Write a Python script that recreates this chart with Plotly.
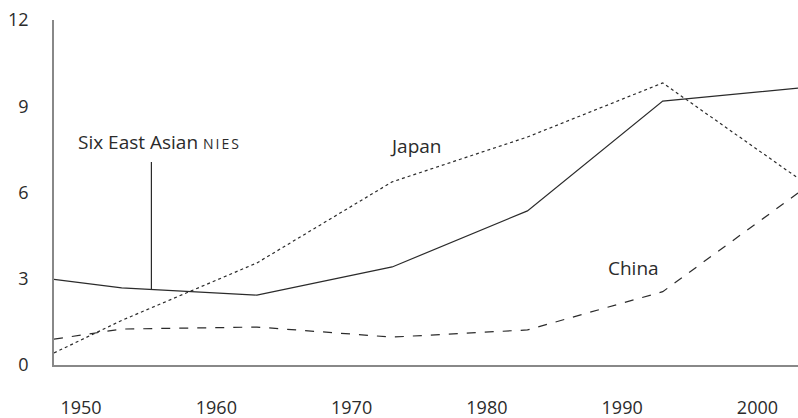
import plotly.graph_objects as go

# 数据
years = [1948, 1953, 1963, 1973, 1983, 1993, 2003]
nies = [2.98, 2.68, 2.43, 3.41, 5.36, 9.18, 9.63]
japan = [0.42, 1.55, 3.55, 6.37, 7.93, 9.81, 6.5]
china = [0.90, 1.25, 1.32, 0.97, 1.22, 2.55, 5.98]

x_ticks = [1950, 1960, 1970, 1980, 1990, 2000]
y_ticks = [0, 3, 6, 9, 12]

FONT = "Open Sans"
INK = "#2b2b2b"

fig = go.Figure()
fig.add_trace(go.Scatter(x=years, y=nies, mode="lines",
                         line=dict(color=INK, width=1.2, dash="solid")))
fig.add_trace(go.Scatter(x=years, y=japan, mode="lines",
                         line=dict(color=INK, width=1.2, dash="dot")))
fig.add_trace(go.Scatter(x=years, y=china, mode="lines",
                         line=dict(color=INK, width=1.2, dash="dash")))

# 标注
fig.add_annotation(x=1949.6, y=7.76, xanchor="left", yanchor="middle", showarrow=False,
                   text='Six East Asian <span style="font-size:14px;letter-spacing:2px">NIES</span>',
                   font=dict(size=19))
fig.add_annotation(x=1972.7, y=7.62, xanchor="left", yanchor="middle", showarrow=False,
                   text="Japan", font=dict(size=19))
fig.add_annotation(x=1988.8, y=3.37, xanchor="left", yanchor="middle", showarrow=False,
                   text="China", font=dict(size=19))
fig.add_shape(type="line", x0=1955.2, x1=1955.2, y0=2.64, y1=7.06,
              line=dict(color=INK, width=1.2))

fig.update_layout(
    width=798, height=418,
    margin=dict(l=54, r=0, t=20, b=53),
    plot_bgcolor="white", paper_bgcolor="white",
    showlegend=False,
    font=dict(family=FONT, size=18, color=INK),
)
fig.update_xaxes(range=[1948, 2003], tickvals=x_ticks, showgrid=False, zeroline=False,
                 showline=True, linecolor="#888888", linewidth=1.5,
                 ticks="", ticklabelstandoff=26)
fig.update_yaxes(range=[0, 12], tickvals=y_ticks, showgrid=False, zeroline=False,
                 showline=True, linecolor="#888888", linewidth=1.5,
                 ticks="", ticklabelstandoff=20)

fig.write_html("out.html", config={"displayModeBar": False},
               post_script="document.body.style.margin='0';")
